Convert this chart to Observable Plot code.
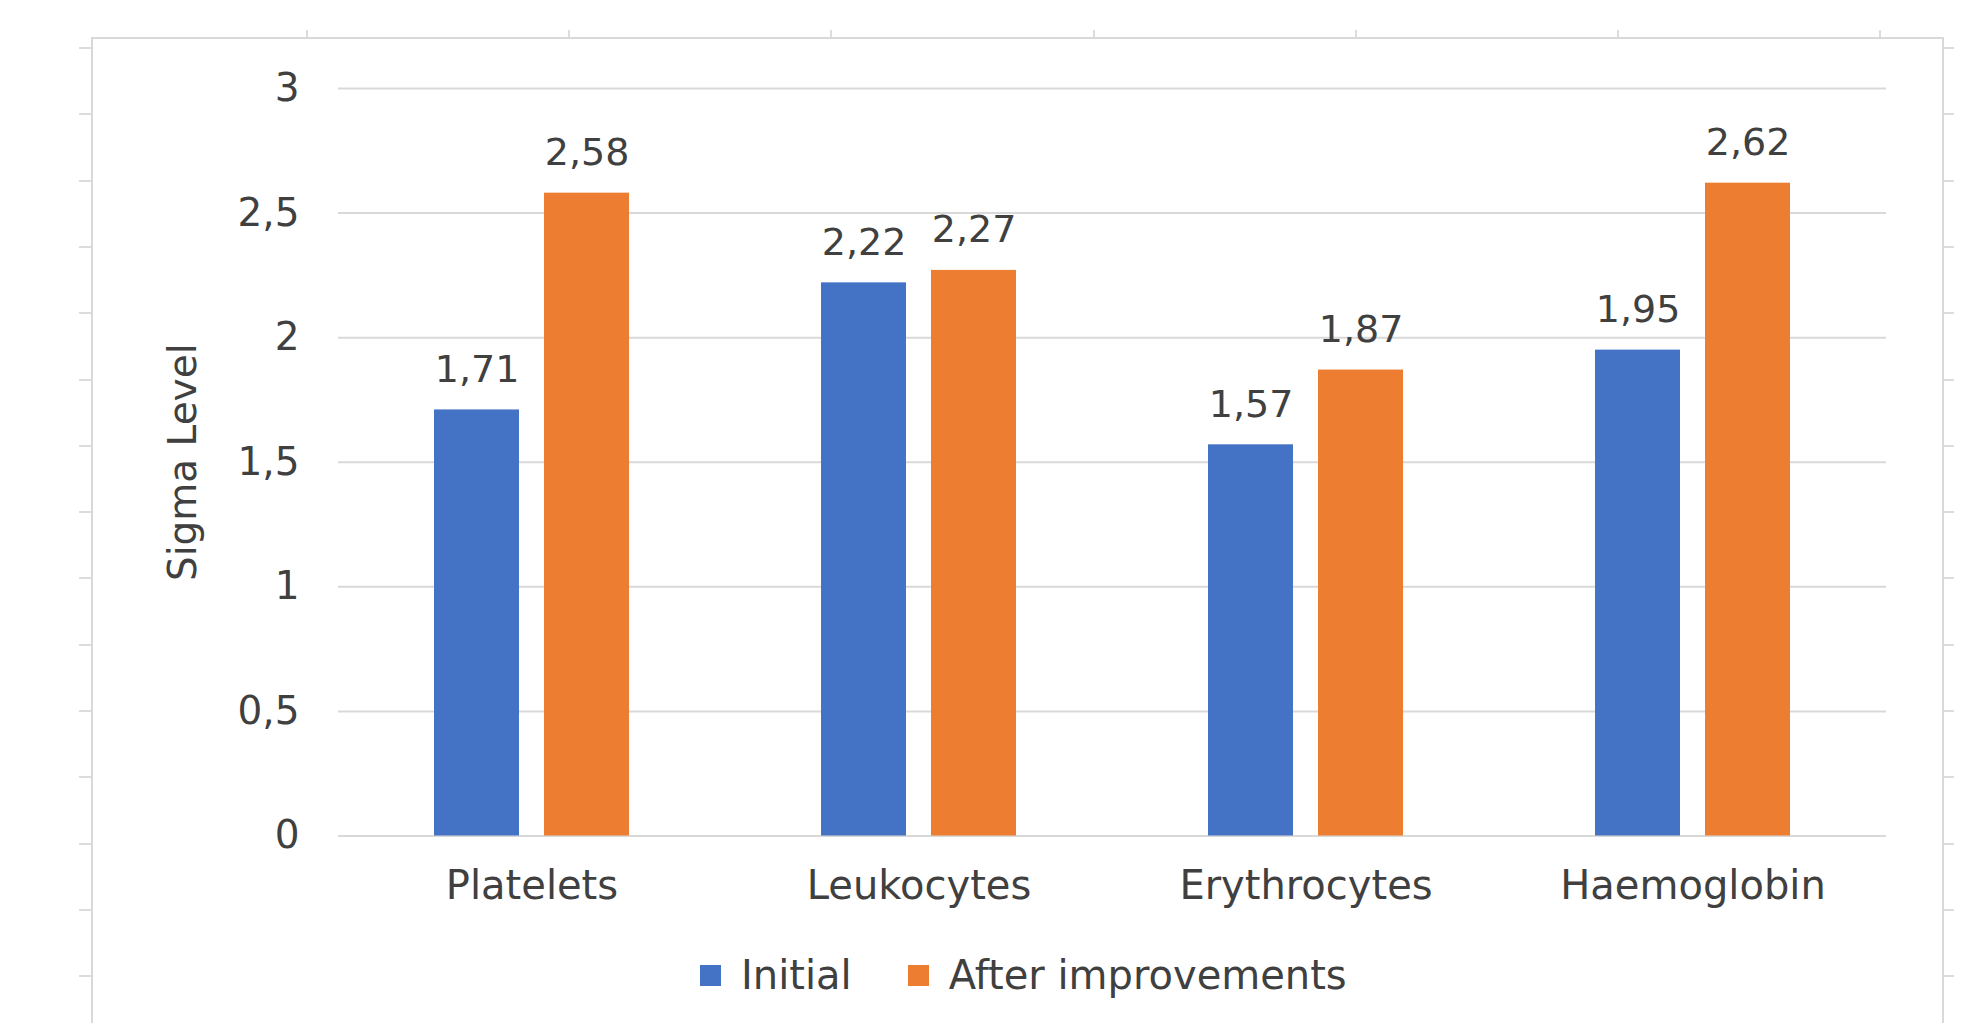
<!DOCTYPE html>
<html>
<head>
<meta charset="utf-8">
<script src="https://cdn.jsdelivr.net/npm/d3@7"></script>
<script src="https://cdn.jsdelivr.net/npm/@observablehq/plot@0.6"></script>
<style>
  html, body { margin: 0; padding: 0; background: #fff; width: 1970px; height: 1023px; overflow: hidden; }
  #frame { position: absolute; left: 91px; top: 37px; width: 1853px; height: 1100px;
           border-left: 2px solid #d9d9d9; border-right: 2px solid #d9d9d9; border-top: 2px solid #d9d9d9; box-sizing: border-box; }
  .ticksV { position: absolute; top: 0; width: 12px; height: 1023px;
            background: repeating-linear-gradient(to bottom, transparent 0 47px, #dcdcdc 47px 49px, transparent 49px 66.3px); }
  #ticksL { left: 79px; }
  #ticksR { left: 1944px; width: 10px; }
  #ticksT { position: absolute; left: 93px; top: 30px; width: 1849px; height: 7px;
            background: repeating-linear-gradient(to right, transparent 0 213px, #dcdcdc 213px 215px, transparent 215px 262.2px); }
  #chart { position: absolute; left: 0; top: 0; }
  #legend { position: absolute; left: 700px; top: 952px; }
  .lg-swatch { margin-right: 56px !important; }
</style>
</head>
<body>
<div id="ticksL" class="ticksV"></div>
<div id="ticksR" class="ticksV"></div>
<div id="ticksT"></div>
<div id="frame"></div>
<div id="chart"></div>
<div id="legend"></div>
<script>
const categories = ["Platelets", "Leukocytes", "Erythrocytes", "Haemoglobin"];
const series = ["Initial", "After improvements"];
const initialValues = [1.71, 2.22, 1.57, 1.95];
const afterValues = [2.58, 2.27, 1.87, 2.62];
const yTicks = [0, 0.5, 1, 1.5, 2, 2.5, 3];
const colors = ["#4472C4", "#ED7D31"];

const data = categories.flatMap((c, i) => [
  {category: c, series: series[0], value: initialValues[i]},
  {category: c, series: series[1], value: afterValues[i]}
]);

const comma = (d, digits) => (digits == null ? String(d) : d.toFixed(digits)).replace(".", ",");
const textColor = "#404040";

const plot = Plot.plot({
  width: 1970,
  height: 930,
  marginLeft: 337,
  marginRight: 83,
  marginTop: 88,
  marginBottom: 94.5,
  style: {fontFamily: "DejaVu Sans", background: "transparent"},
  fx: {domain: categories, padding: 0, axis: null},
  x: {domain: series, paddingInner: 0.225, paddingOuter: 0.86, axis: null},
  y: {domain: [0, 3], axis: null},
  color: {domain: series, range: colors},
  marks: [
    Plot.gridY(yTicks, {stroke: "#d9d9d9", strokeOpacity: 1, strokeWidth: 2}),
    Plot.axisY({ticks: yTicks, tickSize: 0, tickPadding: 39, fontSize: 39, fill: textColor,
                tickFormat: d => comma(d), label: "Sigma Level", labelAnchor: "center",
                labelArrow: "none", labelOffset: 170}),
    Plot.axisFx({anchor: "bottom", tickSize: 0, tickPadding: 35, fontSize: 40, fill: textColor, label: null}),
    Plot.barY(data, {fx: "category", x: "series", y: "value", fill: "series"}),
    Plot.text(data, {fx: "category", x: "series", y: "value", text: d => comma(d.value, 2),
                     dy: -28, lineAnchor: "bottom", fontSize: 38, fill: textColor})
  ]
});
document.getElementById("chart").appendChild(plot);

const legend = Plot.legend({
  color: {domain: series, range: colors},
  legend: "swatches",
  swatchSize: 21,
  className: "lg",
  style: {fontSize: "40px", fontFamily: "DejaVu Sans", color: textColor, margin: 0}
});
document.getElementById("legend").appendChild(legend);
</script>
</body>
</html>
